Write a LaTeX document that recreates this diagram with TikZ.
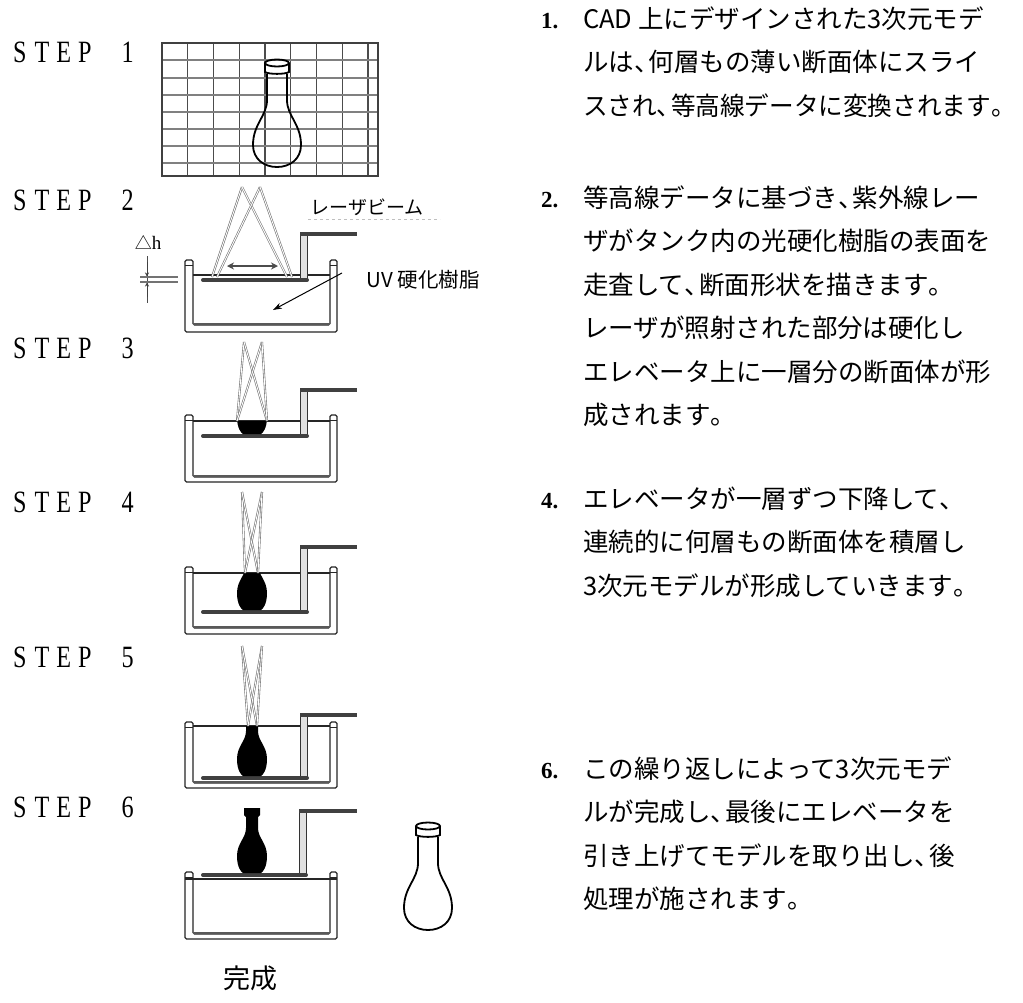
\documentclass[tikz,border=0pt]{standalone}
\usepackage{fontspec}
\usepackage{graphicx}
\usetikzlibrary{arrows.meta}
\newfontfamily\jpfont{Noto Sans CJK JP}
\newfontfamily\stepfont{Liberation Serif}

% spaced, slightly condensed letters of the STEP captions
\newcommand\stlbox[1]{\makebox[21.7pt][l]{\scalebox{0.78}[1]{#1}}}
\newcommand\stlname[1]{\stlbox{S}\stlbox{T}\stlbox{E}\stlbox{P}\stlbox{}\stlbox{#1}}
% narrow ideographic comma and full stop
\newcommand\tou{\makebox[0.58em][l]{、}}
\newcommand\kuten{\makebox[0.5em][l]{。}}

\tikzset{
  every node/.style={inner sep=0pt, outer sep=0pt},
  jptext/.style={anchor=base west, font=\jpfont\fontsize{25.5}{25.5}\selectfont},
  numtext/.style={anchor=base west, font=\stepfont\bfseries\fontsize{23}{23}\selectfont},
  steplabel/.style={anchor=base west, font=\stepfont\fontsize{31}{31}\selectfont},
  gridv/.style={draw=black!70, line width=1.3pt},
  gridh/.style={draw=black!50, line width=1.3pt},
  wall/.style={draw=black!85, fill=white, line width=1.1pt, rounded corners=1.5pt},
  surface/.style={draw=black!85, line width=1.2pt},
  platform/.style={draw=black!75, line width=4pt, line cap=round},
  armbar/.style={draw=black!75, line width=4pt},
  armpost/.style={draw=black!80, fill=black!12, line width=0.9pt},
  beam/.style={draw=black!55, line width=0.6pt, double=white, double distance=0.9pt},
  outlinevase/.style={draw=black, line width=1.8pt},
  solidvase/.pic={
    \fill[black] (-8,-65) -- (-8,-58) -- (-6,-56) -- (-6,-45)
      .. controls (-6,-35) and (-15,-30) .. (-15,-17)
      .. controls (-15,-6) and (-11,-1) .. (-9,0) -- (9,0)
      .. controls (11,-1) and (15,-6) .. (15,-17)
      .. controls (15,-30) and (6,-35) .. (6,-45)
      -- (6,-56) -- (8,-58) -- (8,-65) -- cycle;
  },
  openvase/.pic={
    \draw[outlinevase] (0,3) ellipse [x radius=12, y radius=3.5];
    \draw[outlinevase] (-12,3) -- (-12,12) .. controls (-8,14.5) and (8,14.5) .. (12,12) -- (12,3);
    \draw[outlinevase] (-10,13.5) -- (-10,40)
      .. controls (-10,56) and (-24,64) .. (-24,85)
      .. controls (-24,99) and (-13,107) .. (0,107)
      .. controls (13,107) and (24,99) .. (24,85)
      .. controls (24,64) and (10,56) .. (10,40) -- (10,13.5);
  }
}

% tank with elevator: post top, surface, platform, inner floor, outer floor, arm height
\newcommand\drawtank[6]{%
  \draw[wall] (185,#1) -- (185,#5) -- (337,#5) -- (337,#1) -- (330,#1)
     -- (330,#4) -- (193,#4) -- (193,#1) -- cycle;
  \draw[black!85, line width=0.8pt] (185,#1+5) -- (193,#1+5) (330,#1+5) -- (337,#1+5);
  \draw[black!65, line width=2pt] (193,#4-1.5) -- (330,#4-1.5);
  \draw[surface] (193,#2) -- (330,#2);
  \draw[armpost] (300,#6) rectangle (307,#3);
  \draw[armbar] (300,#6+2) -- (357,#6+2);
  \draw[platform] (203,#3) -- (307,#3);
}

\begin{document}
\begin{tikzpicture}[x=1pt, y=-1pt]
\fill[white] (0,0) rectangle (1023,1002);
\useasboundingbox (0,0) rectangle (1023,1002);

% ---------- step captions ----------
\node[steplabel] (s1) at (13,62) {\stlname{1}};
\node[steplabel] (s2) at (13,210) {\stlname{2}};
\node[steplabel] (s3) at (13,358) {\stlname{3}};
\node[steplabel] (s4) at (13,512) {\stlname{4}};
\node[steplabel] (s5) at (13,667) {\stlname{5}};
\node[steplabel] (s6) at (13,817) {\stlname{6}};

% ---------- STEP 1: CAD grid with model ----------
\foreach \gx in {187.75,213.5,239.25,265,290.75,316.5,342.25,368}
  \draw[gridv] (\gx,43) -- (\gx,176);
\foreach \gy in {60,78,95,112,129,146,163}
  \draw[gridh] (162,\gy) -- (378,\gy);
\draw[black!75, line width=1.6pt] (162,43) rectangle (378,176);
\pic at (277,60) {openvase};

% ---------- STEP 2 ----------
\drawtank{260}{275}{280}{325}{332}{232}
\draw[beam] (242,187) -- (212,277);
\draw[beam] (242,187) -- (287,277);
\draw[beam] (260,187) -- (217,277);
\draw[beam] (260,187) -- (292,277);
\draw[black!70, line width=2.5pt, {Stealth[length=7pt,width=7pt]}-{Stealth[length=7pt,width=7pt]}] (227,266) -- (278,266);
\node[font=\jpfont\fontsize{19}{19}\selectfont] (laser) at (367,207) {レーザビーム};
\draw[black!25, dashed, line width=0.8pt] (308,219) -- (440,219);
\node[font=\jpfont\fontsize{20.5}{20.5}\selectfont] (uv) at (423,280) {UV 硬化樹脂};
\coordinate (uvstart) at (342,273);
\coordinate (resin) at (273,310);
\draw[black, line width=1pt, -{Stealth[length=9pt,width=6pt]}] (uvstart) -- (resin);
% layer thickness
\node[anchor=base] (dh) at (148,249) {\jpfont\fontsize{17}{17}\selectfont △\stepfont\fontsize{19}{19}\selectfont h};
\coordinate (dhtop) at (147,256);
\coordinate (dhbot) at (147,303);
\draw[black!70, line width=0.9pt] (dhtop) -- (dhbot);
\draw[black!75, line width=0.9pt, -{Stealth[length=4pt,width=4pt]}] (147,262) -- (147,276.5);
\draw[black!75, line width=0.9pt, -{Stealth[length=4pt,width=4pt]}] (147,297) -- (147,282.5);
\draw[black!55, line width=1.3pt] (140,277) -- (178,277) (140,282) -- (178,282);

% ---------- STEP 3 ----------
\drawtank{415}{421}{436}{477}{482}{388}
\begin{scope}
  \clip (193,421) rectangle (330,434);
  \pic at (252,434) {solidvase};
\end{scope}
\draw[beam] (244,342) -- (237,421);
\draw[beam] (244,342) -- (267,421);
\draw[beam] (262,342) -- (237,421);
\draw[beam] (262,342) -- (267,421);

% ---------- STEP 4 ----------
\drawtank{567}{573}{612}{628}{634}{545}
\begin{scope}
  \clip (193,573) rectangle (330,610);
  \pic at (252,610) {solidvase};
\end{scope}
\draw[beam] (242,492) -- (245,573);
\draw[beam] (242,492) -- (258,573);
\draw[beam] (262,492) -- (245,573);
\draw[beam] (262,492) -- (258,573);

% ---------- STEP 5 ----------
\drawtank{722}{726}{778}{783}{788}{713}
\begin{scope}
  \clip (193,726) rectangle (330,776);
  \pic at (252,776) {solidvase};
\end{scope}
\draw[beam] (242,646) -- (248,726);
\draw[beam] (242,646) -- (257,726);
\draw[beam] (262,646) -- (248,726);
\draw[beam] (262,646) -- (257,726);

% ---------- STEP 6 ----------
\draw[wall] (185,872) -- (185,939) -- (337,939) -- (337,872) -- (330,872)
   -- (330,934) -- (193,934) -- (193,872) -- cycle;
\draw[black!85, line width=0.8pt] (185,877) -- (193,877) (330,877) -- (337,877);
\draw[black!65, line width=2pt] (193,932.5) -- (330,932.5);
\draw[surface] (185,879) -- (337,879);
\draw[armpost] (299,809) rectangle (306,875);
\draw[armbar] (299,811) -- (357,811);
\draw[platform] (203,875) -- (306,875);
\pic at (252,873) {solidvase};
\begin{scope}[shift={(428,823)}, scale=0.944]
  \pic {openvase};
\end{scope}
\node[font=\jpfont\fontsize{27}{27}\selectfont] (done) at (250,978) {完成};

% ---------- explanations ----------
\node[numtext] (n1) at (541,28) {1.};
\node[jptext] (t1a) at (583,28) {CAD 上にデザインされた3次元モデ};
\node[jptext] (t1b) at (583,71.5) {ルは\tou 何層もの薄い断面体にスライ};
\node[jptext] (t1c) at (583,115) {\scalebox{0.965}[1]{スされ\tou 等高線データに変換されます\kuten}};

\node[numtext] (n2) at (541,207) {2.};
\node[jptext] (t2a) at (583,207) {等高線データに基づき\tou 紫外線レー};
\node[jptext] (t2b) at (583,250.5) {ザがタンク内の光硬化樹脂の表面を};
\node[jptext] (t2c) at (583,294) {走査して\tou 断面形状を描きます\kuten};
\node[jptext] (t2d) at (583,337.5) {レーザが照射された部分は硬化し};
\node[jptext] (t2e) at (583,381) {エレベータ上に一層分の断面体が形};
\node[jptext] (t2f) at (583,424.5) {成されます\kuten};

\node[numtext] (n4) at (541,508) {4.};
\node[jptext] (t4a) at (583,508) {エレベータが一層ずつ下降して\tou};
\node[jptext] (t4b) at (583,551.5) {連続的に何層もの断面体を積層し};
\node[jptext] (t4c) at (583,595) {3次元モデルが形成していきます\kuten};

\node[numtext] (n6) at (541,778) {6.};
\node[jptext] (t6a) at (583,778) {この繰り返しによって3次元モデ};
\node[jptext] (t6b) at (583,821.5) {ルが完成し\tou 最後にエレベータを};
\node[jptext] (t6c) at (583,865) {引き上げてモデルを取り出し\tou 後};
\node[jptext] (t6d) at (583,908.5) {処理が施されます\kuten};
\end{tikzpicture}
\end{document}
